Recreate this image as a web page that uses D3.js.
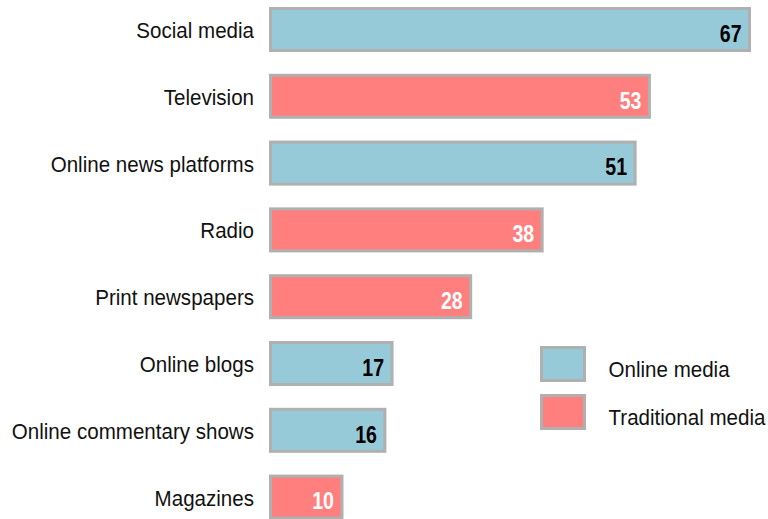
<!DOCTYPE html>
<html>
<head>
<meta charset="utf-8">
<script src="https://cdn.jsdelivr.net/npm/d3@7"></script>
<style>
  html, body { margin: 0; padding: 0; background: #ffffff; }
  svg { display: block; }
  text { font-family: "Liberation Sans", Arial, Helvetica, sans-serif; }
</style>
</head>
<body>
<svg id="chart" width="768" height="519"></svg>
<script>
// Media sources ranked by share (%)
const categories = [
  "Social media", "Television", "Online news platforms", "Radio",
  "Print newspapers", "Online blogs", "Online commentary shows", "Magazines"
];
const values = [67, 53, 51, 38, 28, 17, 16, 10];
const mediaType = ["Online", "Traditional", "Online", "Traditional",
                   "Traditional", "Online", "Online", "Traditional"];
const legendLabels = ["Online media", "Traditional media"];
const legendKeys = ["Online", "Traditional"];

const fill = { Online: "#96CAD8", Traditional: "#FF7F7F" };
const valueColor = { Online: "#000000", Traditional: "#ffffff" };
const borderColor = "#b0b0b0";
const squeeze = 0.935; // horizontally condensed lettering

const rows = categories.map((c, i) => ({ name: c, value: values[i], type: mediaType[i] }));

const svg = d3.select("#chart");

const x = d3.scaleLinear().domain([0, d3.max(values)]).range([270.5, 749.5]);
const y = d3.scaleBand().domain(categories).range([-16.3, 542.9]).padding(0.371);
const mid = d => y(d.name) + y.bandwidth() / 2;

// bars
svg.append("g").selectAll("rect")
  .data(rows).join("rect")
  .attr("x", x(0))
  .attr("y", d => y(d.name))
  .attr("width", d => x(d.value) - x(0))
  .attr("height", y.bandwidth())
  .attr("fill", d => fill[d.type])
  .attr("stroke", borderColor)
  .attr("stroke-width", 3);

// category labels
svg.append("g").selectAll("text")
  .data(rows).join("text")
  .attr("transform", d => `translate(254,${mid(d) + 8.5}) scale(${squeeze},1)`)
  .attr("text-anchor", "end")
  .attr("font-size", 22)
  .attr("fill", "#111")
  .text(d => d.name);

// value labels inside bar ends
svg.append("g").selectAll("text")
  .data(rows).join("text")
  .attr("transform", d => `translate(${x(d.value) - 8},${mid(d) + 12.3}) scale(0.85,1)`)
  .attr("text-anchor", "end")
  .attr("font-size", 23)
  .attr("font-weight", "bold")
  .attr("fill", d => valueColor[d.type])
  .text(d => d.value);

// legend
const legend = svg.append("g");
const lg = legend.selectAll("g")
  .data(legendKeys).join("g")
  .attr("transform", (d, i) => `translate(541.5,${347.5 + i * 48})`);
lg.append("rect")
  .attr("width", 43).attr("height", 33)
  .attr("fill", d => fill[d])
  .attr("stroke", borderColor)
  .attr("stroke-width", 3);
lg.append("text")
  .attr("transform", `translate(67,29.3) scale(${squeeze},1)`)
  .attr("font-size", 22)
  .attr("fill", "#111")
  .text((d, i) => legendLabels[i]);
</script>
</body>
</html>
